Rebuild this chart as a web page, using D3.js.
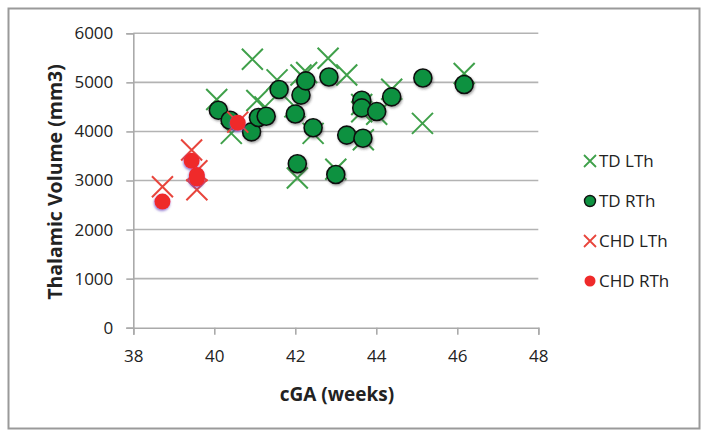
<!DOCTYPE html>
<html><head><meta charset="utf-8">
<script src="https://cdn.jsdelivr.net/npm/d3@7"></script>
<style>body{margin:0;background:#fff}svg{display:block}text{font-family:"Open Sans",Lato,sans-serif;fill:#222}</style>
</head><body><svg id="c" width="708" height="438"></svg>
<script>
const tdLThX = [40.06,40.42,40.94,41.05,41.25,41.55,41.99,42.05,42.14,42.28,42.44,42.81,43.0,43.27,43.64,43.64,43.68,44.01,44.38,45.14,46.17];
const tdLThY = [4650,3960,5470,4630,4500,5050,4500,3050,5150,5200,3960,5490,3230,5150,4550,4400,3830,4350,4860,4165,5180];
const tdRThX = [40.1,40.39,40.92,41.09,41.28,41.6,42.0,42.05,42.14,42.26,42.44,42.83,43.0,43.27,43.64,43.64,43.67,44.01,44.38,45.15,46.17];
const tdRThY = [4433,4229,3991,4284,4310,4855,4355,3341,4740,5030,4075,5110,3123,3925,4636,4480,3862,4405,4705,5090,4957];
const chdLThX = [38.72,39.44,39.57,39.57,40.58];
const chdLThY = [2872,3620,2810,3200,4190];
const chdRThX = [38.72,39.44,39.57,39.57,40.58];
const chdRThY = [2570,3400,3110,3040,4175];
const xTicks = [38,40,42,44,46,48];
const yTicks = [0,1000,2000,3000,4000,5000,6000];
const seriesNames = ["TD LTh","TD RTh","CHD LTh","CHD RTh"];

const FONT = "'Open Sans', Lato, sans-serif";
const svg = d3.select("#c");
const defs = svg.append("defs");
const f1 = defs.append("filter").attr("id","shG").attr("x","-50%").attr("y","-50%").attr("width","200%").attr("height","200%");
f1.append("feDropShadow").attr("dx",1).attr("dy",1.5).attr("stdDeviation",1).attr("flood-color","#333").attr("flood-opacity",0.45);
const f2 = defs.append("filter").attr("id","shR").attr("x","-50%").attr("y","-50%").attr("width","200%").attr("height","200%");
f2.append("feDropShadow").attr("dx",-0.5).attr("dy",1.5).attr("stdDeviation",1.3).attr("flood-color","#6a4fc0").attr("flood-opacity",0.75);

svg.append("rect").attr("x",8.5).attr("y",8.5).attr("width",691).attr("height",420)
  .attr("fill","#fff").attr("stroke","#9a9a9a").attr("stroke-width",2);

const x = d3.scaleLinear().domain([38,48]).range([133.3,538.3]);
const y = d3.scaleLinear().domain([0,6000]).range([327.7,33.3]);

// gridlines
svg.append("g").selectAll("line").data(yTicks.filter(d=>d>0)).join("line")
  .attr("x1",x(38)).attr("x2",x(48)).attr("y1",d=>y(d)).attr("y2",d=>y(d))
  .attr("stroke","#b3b3b3").attr("stroke-width",1.6);

// y axis
const ya = svg.append("g").attr("transform",`translate(${x(38)},0)`)
  .call(d3.axisLeft(y).tickValues(yTicks).tickSize(7).tickPadding(13).tickFormat(d3.format("d")));
ya.select(".domain").attr("stroke","#aaa").attr("stroke-width",1.6);
ya.selectAll(".tick line").attr("stroke","#aaa").attr("stroke-width",1.6);
ya.selectAll("text").attr("font-size",17).attr("font-family",FONT).attr("fill","#222");

// x axis
const xa = svg.append("g").attr("transform",`translate(0,${y(0)})`)
  .call(d3.axisBottom(x).tickValues(xTicks).tickSize(7).tickPadding(15).tickFormat(d3.format("d")));
xa.select(".domain").attr("stroke","#aaa").attr("stroke-width",1.6);
xa.selectAll(".tick line").attr("stroke","#aaa").attr("stroke-width",1.6);
xa.selectAll("text").attr("font-size",17).attr("font-family",FONT).attr("fill","#222");

// titles
svg.append("text").attr("x",337).attr("y",401).attr("text-anchor","middle")
  .attr("font-size",19).attr("font-weight","bold").text("cGA (weeks)");
svg.append("text").attr("transform","translate(62,182) rotate(-90)").attr("text-anchor","middle")
  .attr("font-size",19.5).attr("font-weight","bold").text("Thalamic Volume (mm3)");

function cross(px,py,s){return `M${px-s},${py-s}L${px+s},${py+s}M${px-s},${py+s}L${px+s},${py-s}`;}

const GREEN_X = "#3fa04a", GREEN_F = "#0e9140", RED_X = "#e8453c", RED_F = "#ef2a2a";

// TD LTh
svg.append("g").selectAll("path").data(d3.range(tdLThX.length)).join("path")
  .attr("d",i=>cross(x(tdLThX[i]),y(tdLThY[i]),10.5))
  .attr("stroke",GREEN_X).attr("stroke-width",2).attr("fill","none");
// TD RTh
svg.append("g").attr("filter","url(#shG)").selectAll("circle").data(d3.range(tdRThX.length)).join("circle")
  .attr("cx",i=>x(tdRThX[i])).attr("cy",i=>y(tdRThY[i])).attr("r",9)
  .attr("fill",GREEN_F).attr("stroke","#111").attr("stroke-width",1.6);
// CHD LTh
svg.append("g").selectAll("path").data(d3.range(chdLThX.length)).join("path")
  .attr("d",i=>cross(x(chdLThX[i]),y(chdLThY[i]),10.5))
  .attr("stroke",RED_X).attr("stroke-width",2).attr("fill","none");
// CHD RTh
svg.append("g").attr("filter","url(#shR)").selectAll("circle").data(d3.range(chdRThX.length)).join("circle")
  .attr("cx",i=>x(chdRThX[i])).attr("cy",i=>y(chdRThY[i])).attr("r",8)
  .attr("fill",RED_F);

// legend
const lg = svg.append("g");
const ly = [161,201,241,281];
seriesNames.forEach((n,i)=>{
  const mx = 590, my = ly[i];
  if(i===0||i===2){
    lg.append("path").attr("d",cross(mx,my,6)).attr("stroke",i===0?GREEN_X:RED_X).attr("stroke-width",1.8).attr("fill","none");
  } else if(i===1){
    lg.append("circle").attr("cx",mx).attr("cy",my).attr("r",5.5).attr("fill",GREEN_F).attr("stroke","#111").attr("stroke-width",1.4);
  } else {
    lg.append("circle").attr("cx",mx).attr("cy",my).attr("r",5.5).attr("fill",RED_F);
  }
  lg.append("text").attr("x",599).attr("y",my+6).attr("font-size",17).text(n);
});
</script></body></html>
